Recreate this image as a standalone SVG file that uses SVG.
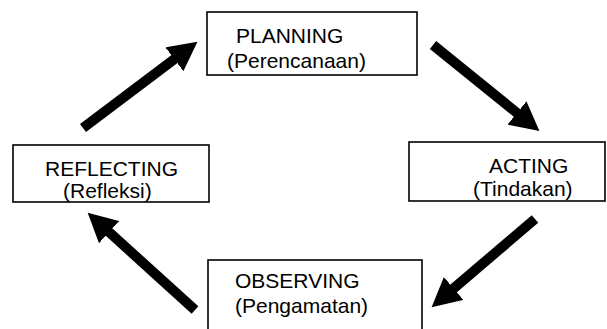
<svg xmlns="http://www.w3.org/2000/svg" width="607" height="329" viewBox="0 0 607 329">
<style>
.box{fill:#fff;stroke:#000;stroke-width:1.6}
.t{font-family:"Liberation Sans",Arial,sans-serif;font-size:21px;fill:#000}
.arr{stroke:#000;stroke-width:10;fill:none;marker-end:url(#head)}
</style>
<defs>
<marker id="head" markerUnits="userSpaceOnUse" markerWidth="30" markerHeight="30" viewBox="0 0 28 28" refX="1" refY="14" orient="auto">
<path d="M0,0 L27,14 L0,28 z" fill="#000"/>
</marker>
</defs>
<rect width="607" height="329" fill="#fff"/>
<g id="connectors">
<line class="arr" x1="83" y1="128" x2="175.2" y2="58.6"/>
<line class="arr" x1="433" y1="45" x2="517.8" y2="113.6"/>
<line class="arr" x1="535" y1="219" x2="452.8" y2="289.1"/>
<line class="arr" x1="195" y1="310" x2="108.3" y2="231.4"/>
</g>
<g id="planning">
<rect class="box" x="207" y="12" width="210" height="63"/>
<text class="t" x="236" y="43">PLANNING</text>
<text class="t" x="227" y="68">(Perencanaan)</text>
</g>
<g id="acting">
<rect class="box" x="409" y="142" width="196" height="59"/>
<text class="t" x="489" y="173">ACTING</text>
<text class="t" x="473" y="196">(Tindakan)</text>
</g>
<g id="observing">
<rect class="box" x="208" y="260" width="214" height="80"/>
<text class="t" x="235" y="288">OBSERVING</text>
<text class="t" x="235" y="313">(Pengamatan)</text>
</g>
<g id="reflecting">
<rect class="box" x="13" y="145" width="196" height="57"/>
<text class="t" x="45" y="176">REFLECTING</text>
<text class="t" x="63" y="198">(Refleksi)</text>
</g>
</svg>
